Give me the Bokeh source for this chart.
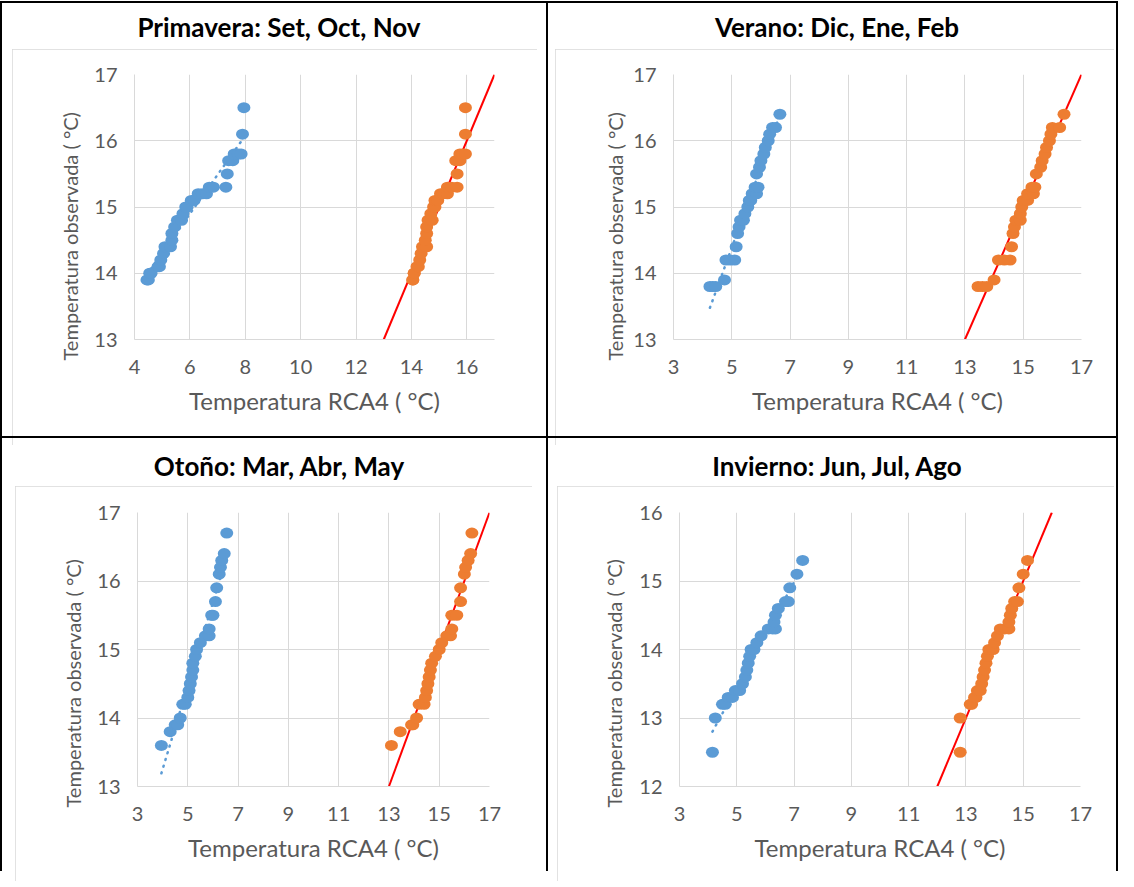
import numpy as np
from bokeh.plotting import figure
from bokeh.models import Div, Spacer, FixedTicker, Slope, Range1d, ColumnDataSource, Title
from bokeh.layouts import row, column
from bokeh.embed import file_html
from bokeh.resources import INLINE

# ---------------- data ----------------
titles = ["Primavera: Set, Oct, Nov", "Verano: Dic, Ene, Feb",
          "Otoño: Mar, Abr, May", "Invierno: Jun, Jul, Ago"]
x_axis_title = "Temperatura RCA4 ( °C)"
y_axis_title = "Temperatura observada ( °C)"

# Primavera
obs_pri = [13.9, 13.9, 14.0, 14.0, 14.1, 14.1, 14.2, 14.3, 14.4, 14.4, 14.5, 14.6, 14.7, 14.8, 14.8, 14.9, 15.0,
           15.0, 15.1, 15.1, 15.2, 15.2, 15.2, 15.3, 15.3, 15.3, 15.5, 15.7, 15.7, 15.8, 15.8, 15.8, 16.1, 16.5]
rca_pri = [4.45, 4.5, 4.55, 4.6, 4.85, 4.9, 4.95, 5.05, 5.1, 5.3, 5.35, 5.35, 5.45, 5.55, 5.7, 5.75, 5.85,
           5.9, 6.05, 6.15, 6.3, 6.45, 6.6, 6.7, 6.85, 7.3, 7.35, 7.4, 7.55, 7.6, 7.75, 7.85, 7.9, 7.95]
cor_pri = [14.05, 14.05, 14.1, 14.1, 14.2, 14.25, 14.3, 14.35, 14.4, 14.55, 14.5, 14.55, 14.55, 14.6, 14.75, 14.7, 14.8,
           14.85, 14.85, 14.95, 15.05, 15.15, 15.3, 15.3, 15.45, 15.65, 15.65, 15.6, 15.75, 15.75, 15.85, 15.95, 15.95, 15.95]

# Verano
obs_ver = [13.8, 13.8, 13.8, 13.9, 14.2, 14.2, 14.2, 14.4, 14.6, 14.7, 14.8, 14.8, 14.9, 15.0, 15.1,
           15.1, 15.2, 15.2, 15.3, 15.3, 15.5, 15.6, 15.7, 15.8, 15.9, 16.0, 16.1, 16.2, 16.2, 16.4]
rca_ver = [4.25, 4.35, 4.45, 4.75, 4.8, 4.95, 5.1, 5.15, 5.2, 5.25, 5.3, 5.4, 5.45, 5.55, 5.6,
           5.65, 5.7, 5.85, 5.8, 5.9, 5.85, 5.95, 6.0, 6.1, 6.15, 6.25, 6.3, 6.4, 6.5, 6.65]
cor_ver = [13.45, 13.6, 13.75, 14.0, 14.15, 14.35, 14.55, 14.6, 14.65, 14.7, 14.75, 14.9, 14.9, 14.95, 15.0,
           15.15, 15.15, 15.35, 15.3, 15.4, 15.45, 15.6, 15.65, 15.75, 15.8, 15.9, 15.95, 16.0, 16.25, 16.4]

# Otoño
obs_oto = [13.6, 13.8, 13.9, 13.9, 14.0, 14.2, 14.2, 14.3, 14.4, 14.5, 14.6, 14.7, 14.8, 14.9,
           15.0, 15.1, 15.2, 15.2, 15.3, 15.5, 15.5, 15.7, 15.9, 16.1, 16.2, 16.3, 16.4, 16.7]
rca_oto = [3.95, 4.3, 4.5, 4.6, 4.7, 4.8, 4.9, 5.0, 5.05, 5.1, 5.15, 5.2, 5.2, 5.3,
           5.35, 5.5, 5.7, 5.85, 5.85, 5.95, 6.0, 6.1, 6.15, 6.25, 6.3, 6.35, 6.45, 6.55]
cor_oto = [13.1, 13.45, 13.9, 13.95, 14.1, 14.2, 14.4, 14.45, 14.5, 14.55, 14.6, 14.65, 14.7, 14.85,
           15.0, 15.1, 15.3, 15.45, 15.5, 15.5, 15.7, 15.85, 15.85, 16.0, 16.05, 16.15, 16.25, 16.3]

# Invierno
obs_inv = [12.5, 13.0, 13.2, 13.2, 13.3, 13.3, 13.4, 13.4, 13.5, 13.6, 13.7, 13.8, 13.9, 14.0,
           14.0, 14.1, 14.2, 14.3, 14.3, 14.3, 14.4, 14.5, 14.6, 14.7, 14.7, 14.9, 15.1, 15.3]
rca_inv = [4.15, 4.25, 4.5, 4.6, 4.7, 4.85, 4.95, 5.1, 5.2, 5.3, 5.35, 5.4, 5.45, 5.5,
           5.6, 5.7, 5.85, 6.1, 6.25, 6.35, 6.3, 6.35, 6.45, 6.7, 6.8, 6.85, 7.1, 7.3]
cor_inv = [12.8, 12.8, 13.15, 13.2, 13.3, 13.35, 13.4, 13.5, 13.55, 13.6, 13.65, 13.7, 13.75, 13.8,
           13.95, 14.0, 14.1, 14.2, 14.35, 14.5, 14.5, 14.55, 14.6, 14.7, 14.8, 14.85, 15.0, 15.15]

# axes
x_ticks_pri = [4, 6, 8, 10, 12, 14, 16]
x_ticks_other = [3, 5, 7, 9, 11, 13, 15, 17]
y_ticks_hi = [13, 14, 15, 16, 17]
y_ticks_inv = [12, 13, 14, 15, 16]
x_limits = [(4, 17), (3, 17), (3, 17), (3, 17)]
y_limits = [(13, 17), (13, 17), (13, 17), (12, 16)]

BLUE = "#5B9BD5"
ORANGE = "#ED7D31"
GRID = "#D9D9D9"
TXT = "#595959"
FONT = "Lato"


def make_panel(rca, cor, obs, xlim, ylim, xticks, yticks, w, h, bl, br, bt, bb, ylab_standoff):
    p = figure(width=w, height=h, x_range=Range1d(*xlim), y_range=Range1d(*ylim),
               output_backend="svg", toolbar_location=None,
               min_border_left=bl, min_border_right=br, min_border_top=bt, min_border_bottom=bb,
               background_fill_color="white", border_fill_color="white")
    p.outline_line_color = None
    p.styles = {"outline": "1px solid #D9D9D9", "outline-offset": "-1px"}

    p.xaxis.ticker = FixedTicker(ticks=xticks)
    p.yaxis.ticker = FixedTicker(ticks=yticks)
    p.xaxis.minor_tick_line_color = None
    p.yaxis.minor_tick_line_color = None
    for ax in (p.xaxis, p.yaxis):
        ax.major_tick_in = 0
        ax.major_tick_out = 0
        ax.axis_line_color = GRID
        ax.axis_line_width = 1
        ax.major_label_text_font = FONT
        ax.major_label_text_font_size = "20px"
        ax.major_label_text_color = TXT
        ax.axis_label_text_font = FONT
        ax.axis_label_text_font_style = "normal"
        ax.axis_label_text_color = TXT
    p.xaxis.axis_label = x_axis_title
    p.xaxis.axis_label_text_font_size = "24px"
    p.xaxis.major_label_standoff = 20
    p.yaxis.major_label_standoff = 17
    p.xaxis.axis_label_standoff = 9

    # y axis title: side title, anchored slightly below the frame bottom as in the original
    p.add_layout(Title(text=y_axis_title, align="left", offset=-21, vertical_align="middle",
                       standoff=ylab_standoff, text_font=FONT, text_font_size="20px",
                       text_font_style="normal", text_color=TXT), "left")

    p.xgrid.grid_line_color = GRID
    p.ygrid.grid_line_color = GRID
    p.xgrid.ticker = FixedTicker(ticks=xticks)
    p.ygrid.ticker = FixedTicker(ticks=yticks)

    # 1:1 reference line
    p.add_layout(Slope(gradient=1, y_intercept=0, line_color="#FF0000", line_width=2, level="underlay"))

    # linear trendline of the raw RCA4 series
    xr = np.array(rca, dtype=float)
    yr = np.array(obs, dtype=float)
    m, c = np.polyfit(xr, yr, 1)
    tx = np.array([xr.min(), xr.max()])
    p.line(tx, m * tx + c, line_color=BLUE, line_width=2.5, line_dash="1 6", line_cap="round")

    src_b = ColumnDataSource(dict(x=rca, y=obs))
    src_o = ColumnDataSource(dict(x=cor, y=obs))
    p.ellipse(x="x", y="y", width=13, height=11, width_units="screen", height_units="screen",
              fill_color=BLUE, line_color=None, source=src_b)
    p.ellipse(x="x", y="y", width=13, height=11, width_units="screen", height_units="screen",
              fill_color=ORANGE, line_color=None, source=src_o)
    return p


def title_div(text, w, h, pad):
    html = ('<div style="width:%dpx;text-align:center;font-family:Lato;font-weight:bold;'
            'font-size:26px;color:#000;line-height:26px;padding-top:%dpx;">%s</div>' % (w, pad, text))
    return Div(text=html, width=w, height=h)


def black(w, h):
    return Spacer(width=w, height=h, styles={"background-color": "black"})


data = [(rca_pri, cor_pri, obs_pri), (rca_ver, cor_ver, obs_ver),
        (rca_oto, cor_oto, obs_oto), (rca_inv, cor_inv, obs_inv)]
xt = [x_ticks_pri, x_ticks_other, x_ticks_other, x_ticks_other]
yt = [y_ticks_hi, y_ticks_hi, y_ticks_hi, y_ticks_inv]

# geometry: (cell width, title height, title pad, left gap, fig w, fig h, borders l r t b, ylabel standoff)
geo = [
    (544, 36, 6, 10, 525, 396, 122, 43, 25, 106, 18),
    (568, 36, 6, 7, 559, 396, 118, 33, 25, 106, 6),
    (544, 38, 10, 13, 517, 395, 122, 43, 26, 95, 18),
    (568, 38, 10, 9, 557, 395, 122, 34, 26, 95, 20),
]

cells = []
for i in range(4):
    cw, th, tp, gap, fw, fh, bl, br, bt, bb, ys = geo[i]
    rca, cor, obs = data[i]
    p = make_panel(rca, cor, obs, x_limits[i], y_limits[i], xt[i], yt[i], fw, fh, bl, br, bt, bb, ys)
    body = row(Spacer(width=gap, height=fh), p)
    children = [title_div(titles[i], cw, th, tp), body]
    used = th + fh
    if used < 433:
        children.append(Spacer(width=cw, height=433 - used))
    cells.append(column(*children, width=cw, height=433))

top_row = row(black(2, 433), cells[0], black(2, 433), cells[1], black(2, 433))
bot_row = row(black(2, 433), cells[2], black(2, 433), cells[3], black(2, 433))
layout = column(Spacer(width=1118, height=1), black(1118, 2), top_row, black(1118, 2), bot_row)

open("out.html", "w").write(file_html(layout, INLINE))
